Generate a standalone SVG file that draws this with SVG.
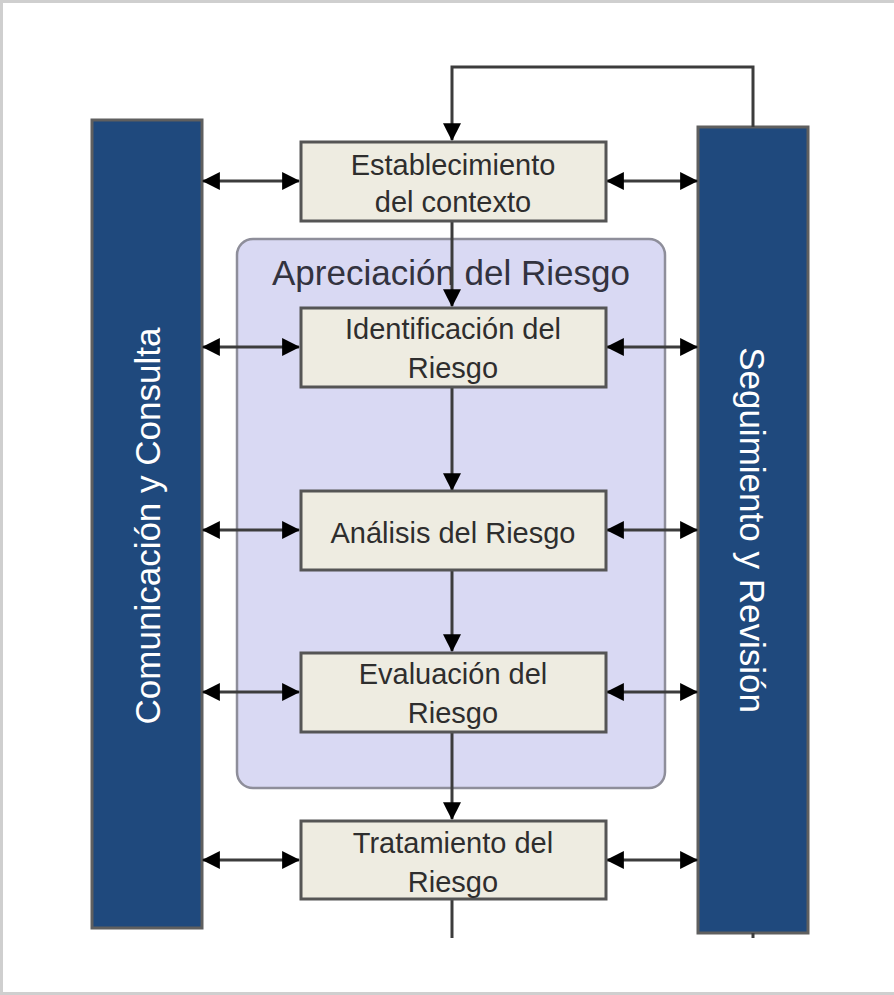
<svg xmlns="http://www.w3.org/2000/svg" width="894" height="995" viewBox="0 0 894 995">
  <defs>
    <marker id="ah" markerUnits="userSpaceOnUse" viewBox="0 0 16 16" refX="15" refY="8" markerWidth="18" markerHeight="18" orient="auto-start-reverse">
      <path d="M0,0 L16,8 L0,16 Z" fill="#000"/>
    </marker>
    <style>
      .bar{fill:#1f497d;stroke:#5f5f5f;stroke-width:3}
      .box{fill:#eeece1;stroke:#555;stroke-width:3}
      .bt{font-family:"Liberation Sans",Arial,sans-serif;font-size:29px;fill:#2e2e2e;text-anchor:middle}
      .side{font-family:"Liberation Sans",Arial,sans-serif;font-size:35px;fill:#ffffff;text-anchor:middle}
      .title{font-family:"Liberation Sans",Arial,sans-serif;font-size:35px;fill:#33333f;text-anchor:middle}
      .c{fill:none;stroke:#3c3c3c;stroke-width:3}
      .da{marker-start:url(#ah);marker-end:url(#ah)}
      .sa{marker-end:url(#ah)}
    </style>
  </defs>
  <rect x="0" y="0" width="894" height="995" fill="#ffffff"/>
  <path d="M1.5,995 V1.5 H894 M0,993.5 H894" fill="none" stroke="#cfcfcf" stroke-width="3"/>

  <g id="comunicacion">
    <rect class="bar" x="92" y="120" width="110" height="808"/>
    <text class="side" transform="translate(160,526) rotate(-90)">Comunicación y Consulta</text>
  </g>
  <g id="seguimiento">
    <rect class="bar" x="698" y="127" width="110" height="806"/>
    <text class="side" transform="translate(740,530) rotate(90)">Seguimiento y Revisión</text>
  </g>

  <g id="apreciacion">
    <rect x="237" y="239" width="428" height="549" rx="16" ry="16" fill="#d9d9f3" stroke="#8e8e9a" stroke-width="2.5"/>
    <text class="title" x="451" y="285">Apreciación del Riesgo</text>
  </g>

  <g id="connectors">
    <path class="c sa" d="M753,127 V67 H452 V140"/>
    <path class="c" d="M753,933 V938"/>
    <path class="c sa" d="M452,221 V306"/>
    <path class="c sa" d="M452,387 V490"/>
    <path class="c sa" d="M452,570 V651"/>
    <path class="c sa" d="M452,732 V819"/>
    <path class="c" d="M452,899 V938"/>
    <path class="c da" d="M203,181 H299"/>
    <path class="c da" d="M607,181 H697"/>
    <path class="c da" d="M203,347 H299"/>
    <path class="c da" d="M607,347 H697"/>
    <path class="c da" d="M203,530 H299"/>
    <path class="c da" d="M607,530 H697"/>
    <path class="c da" d="M203,692 H299"/>
    <path class="c da" d="M607,692 H697"/>
    <path class="c da" d="M203,860 H299"/>
    <path class="c da" d="M607,860 H697"/>
  </g>

  <g id="establecimiento">
    <rect class="box" x="301" y="142" width="305" height="79"/>
    <text class="bt" x="453" y="175">Establecimiento</text>
    <text class="bt" x="453" y="212">del contexto</text>
  </g>
  <g id="identificacion">
    <rect class="box" x="301" y="308" width="305" height="79"/>
    <text class="bt" x="453" y="339">Identificación del</text>
    <text class="bt" x="453" y="378">Riesgo</text>
  </g>
  <g id="analisis">
    <rect class="box" x="301" y="491" width="305" height="79"/>
    <text class="bt" x="453" y="543">Análisis del Riesgo</text>
  </g>
  <g id="evaluacion">
    <rect class="box" x="301" y="653" width="305" height="79"/>
    <text class="bt" x="453" y="684">Evaluación del</text>
    <text class="bt" x="453" y="723">Riesgo</text>
  </g>
  <g id="tratamiento">
    <rect class="box" x="301" y="821" width="305" height="78"/>
    <text class="bt" x="453" y="853">Tratamiento del</text>
    <text class="bt" x="453" y="892">Riesgo</text>
  </g>
</svg>
